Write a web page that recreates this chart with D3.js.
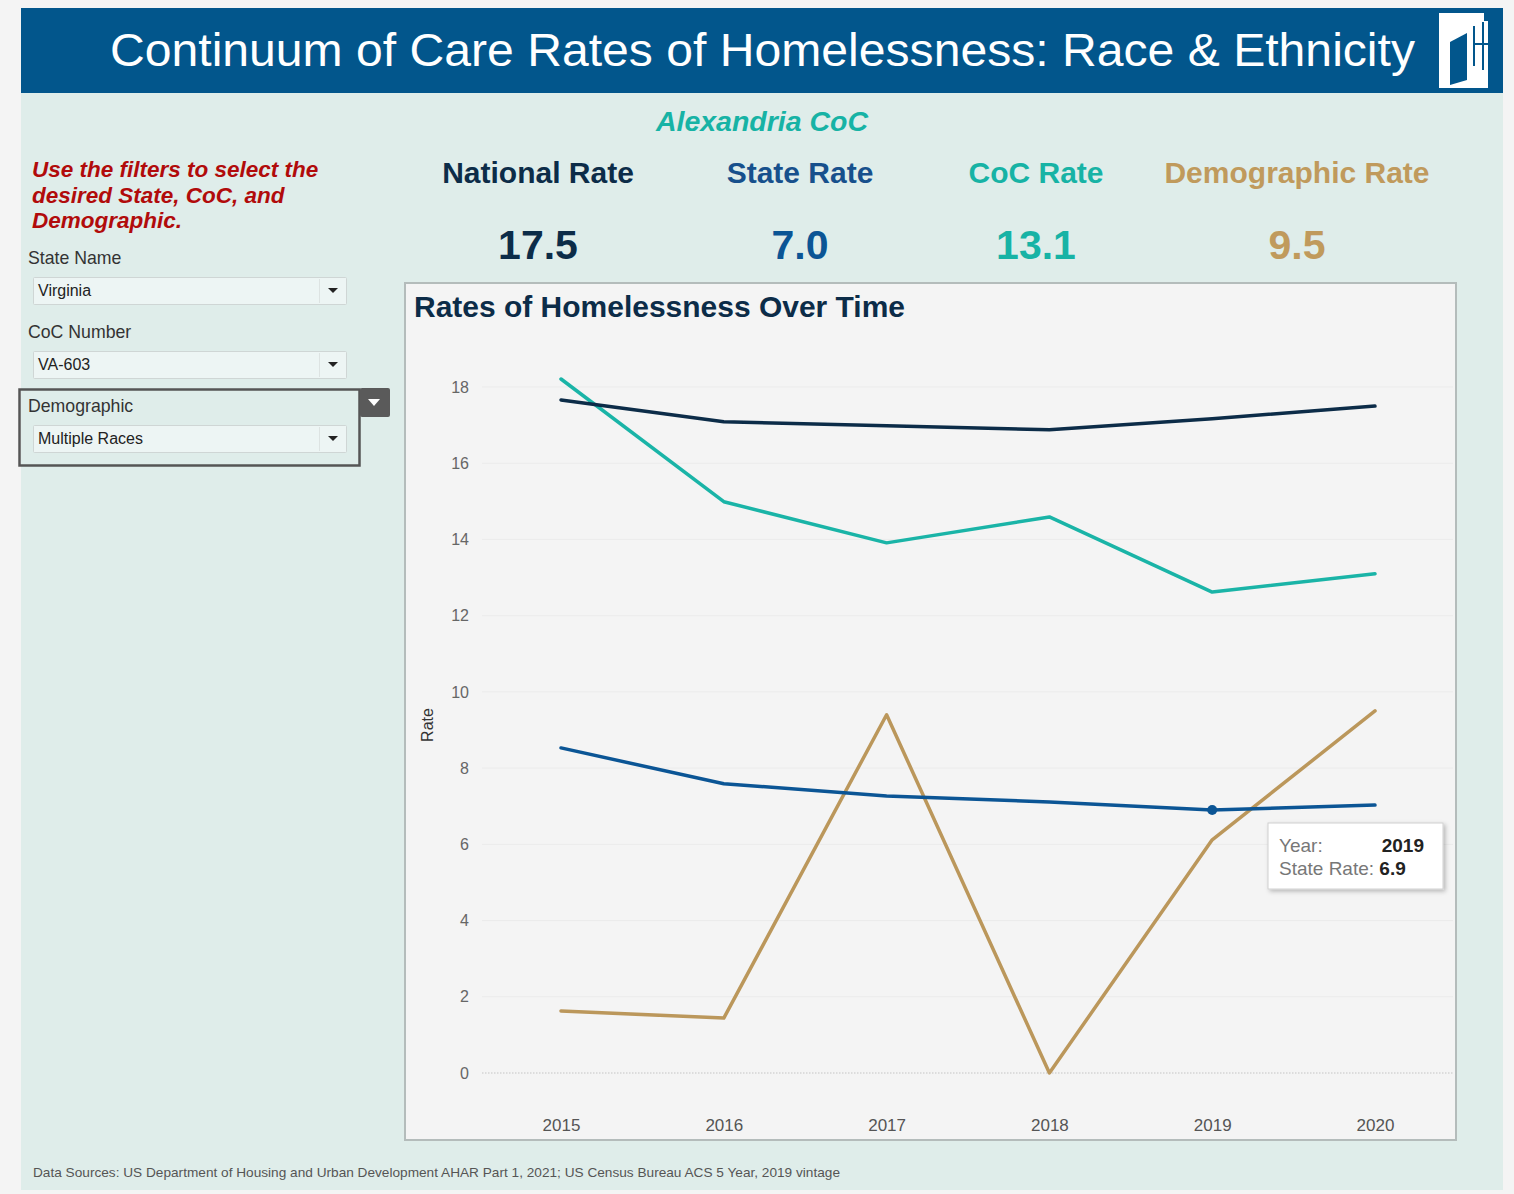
<!DOCTYPE html>
<html><head><meta charset="utf-8">
<script src="https://cdn.jsdelivr.net/npm/d3@7"></script>
<style>
html,body{margin:0;padding:0;background:#f4f4f4;}
svg{display:block;font-family:"Liberation Sans",Arial,sans-serif;}
</style></head>
<body>
<svg id="c" width="1514" height="1194"></svg>
<script>
const years = [2015, 2016, 2017, 2018, 2019, 2020];
const nationalRate = [17.66, 17.09, 16.98, 16.88, 17.17, 17.5];
const stateRate = [8.53, 7.59, 7.27, 7.11, 6.9, 7.03];
const cocRate = [18.21, 14.99, 13.91, 14.59, 12.62, 13.1];
const demographicRate = [1.63, 1.44, 9.4, 0.0, 6.12, 9.5];
const yTicks = [0, 2, 4, 6, 8, 10, 12, 14, 16, 18];
const kpiLabels = ["National Rate", "State Rate", "CoC Rate", "Demographic Rate"];
const kpiValues = ["17.5", "7.0", "13.1", "9.5"];
const filters = [
  {label: "State Name", value: "Virginia"},
  {label: "CoC Number", value: "VA-603"},
  {label: "Demographic", value: "Multiple Races"}
];

const colors = {national:"#0c2c48", state:"#0b5595", coc:"#1ab4a7", demo:"#bb975b"};
const svg = d3.select("#c");

// dashboard background
svg.append("rect").attr("x",21).attr("y",8).attr("width",1482).attr("height",1182).attr("fill","#dfedea");
// header
svg.append("rect").attr("x",21).attr("y",8).attr("width",1482).attr("height",85).attr("fill","#02568c");
svg.append("text").attr("x",110).attr("y",66)
  .attr("fill","#fff").attr("font-size",47)
  .attr("textLength",1305).attr("lengthAdjust","spacingAndGlyphs")
  .text("Continuum of Care Rates of Homelessness: Race & Ethnicity");
// logo
const lg = svg.append("g");
lg.append("rect").attr("x",1439).attr("y",13).attr("width",49).attr("height",75).attr("fill","#fff");
lg.append("path").attr("d","M1450,42 L1467,33 L1467,80 L1450,85 Z").attr("fill","#02568c");
lg.append("rect").attr("x",1473).attr("y",26).attr("width",2).attr("height",40).attr("fill","#02568c");
lg.append("rect").attr("x",1482).attr("y",22).attr("width",2).attr("height",48).attr("fill","#02568c");
lg.append("rect").attr("x",1473).attr("y",43).attr("width",15).attr("height",2).attr("fill","#02568c");
lg.append("rect").attr("x",1484).attr("y",13).attr("width",4).attr("height",8).attr("fill","#02568c");

// subtitle
svg.append("text").attr("x",762).attr("y",131).attr("text-anchor","middle")
  .attr("fill","#17b3a5").attr("font-size",28.5).attr("font-weight","bold").attr("font-style","italic")
  .text("Alexandria CoC");

// KPIs
const kpiX = [538, 800, 1036, 1297];
const kpiCol = ["#0c2c48", "#17508c", "#17b3a5", "#c09a5c"];
kpiLabels.forEach((l,i)=>{
  svg.append("text").attr("x",kpiX[i]).attr("y",183).attr("text-anchor","middle")
    .attr("fill",kpiCol[i]).attr("font-size",30).attr("font-weight","bold").text(l);
  svg.append("text").attr("x",kpiX[i]).attr("y",259).attr("text-anchor","middle")
    .attr("fill",i===1?"#0b5595":kpiCol[i]).attr("font-size",41).attr("font-weight","bold").text(kpiValues[i]);
});

// left instructions
const instr = ["Use the filters to select the","desired State, CoC, and","Demographic."];
instr.forEach((t,i)=>{
  svg.append("text").attr("x",32).attr("y",177+i*25.5).attr("fill","#b10b0b")
    .attr("font-size",22.5).attr("font-weight","bold").attr("font-style","italic").text(t);
});

// highlighted demographic container
svg.append("rect").attr("x",19.5).attr("y",389.5).attr("width",340).attr("height",76)
  .attr("fill","none").attr("stroke","#555").attr("stroke-width",2.5);
svg.append("rect").attr("x",360).attr("y",388).attr("width",30).attr("height",29).attr("rx",2).attr("fill","#5a5a5a");
svg.append("path").attr("d","M368,399 L380,399 L374,406 Z").attr("fill","#fff");

const fy = [258, 332, 406];
filters.forEach((f,i)=>{
  svg.append("text").attr("x",28).attr("y",fy[i]+6).attr("fill","#333").attr("font-size",17.7).text(f.label);
  const by = fy[i]+19;
  svg.append("rect").attr("x",33.5).attr("y",by+0.5).attr("width",313).attr("height",27)
    .attr("fill","#edf5f4").attr("stroke","#cfd6d5").attr("rx",1);
  svg.append("line").attr("x1",319.5).attr("x2",319.5).attr("y1",by+2).attr("y2",by+26).attr("stroke","#dde3e2");
  svg.append("path").attr("d",`M328,${by+11} L338,${by+11} L333,${by+16} Z`).attr("fill","#222");
  svg.append("text").attr("x",38).attr("y",by+19).attr("fill","#222").attr("font-size",16).text(f.value);
});

// chart panel
svg.append("rect").attr("x",405).attr("y",283).attr("width",1051).attr("height",857)
  .attr("fill","#f4f4f4").attr("stroke","#b4bcbb").attr("stroke-width",2);
svg.append("text").attr("x",414).attr("y",317).attr("fill","#0c2c48").attr("font-size",29.5)
  .attr("font-weight","bold").attr("textLength",491).attr("lengthAdjust","spacingAndGlyphs")
  .text("Rates of Homelessness Over Time");

const x = d3.scalePoint().domain(years).range([561,1375]);
const y = d3.scaleLinear().domain([0,18]).range([1073,387]);

// gridlines
const grid = svg.append("g");
yTicks.forEach(t=>{
  grid.append("line").attr("x1",482).attr("x2",1453).attr("y1",y(t)).attr("y2",y(t))
    .attr("stroke", t===0?"#c4c4c4":"#ebebeb").attr("stroke-width",1)
    .attr("stroke-dasharray", t===0?"1.5,1.5":null);
});

// y axis
const yAxis = svg.append("g").attr("transform","translate(469,0)")
  .call(d3.axisLeft(y).tickValues(yTicks).tickSize(0).tickPadding(0));
yAxis.select(".domain").remove();
yAxis.selectAll("text").attr("fill","#666").attr("font-size",16)
  .attr("font-family","'Liberation Sans',Arial,sans-serif").attr("dy","0.32em");

// x axis
const xAxis = svg.append("g").attr("transform","translate(0,1118)")
  .call(d3.axisBottom(x).tickSize(0).tickPadding(0).tickFormat(d3.format("d")));
xAxis.select(".domain").remove();
xAxis.selectAll("text").attr("fill","#555").attr("font-size",17)
  .attr("font-family","'Liberation Sans',Arial,sans-serif").attr("dy","0.78em");

// axis title
svg.append("text").attr("transform","translate(433,725) rotate(-90)").attr("text-anchor","middle")
  .attr("fill","#333").attr("font-size",16).text("Rate");

// lines
const line = d3.line().x((d,i)=>x(years[i])).y(d=>y(d));
[[demographicRate,colors.demo,3.5],[stateRate,colors.state,3.5],[cocRate,colors.coc,3.5],[nationalRate,colors.national,3.5]]
.forEach(([data,c,w])=>{
  svg.append("path").datum(data).attr("d",line).attr("fill","none").attr("stroke",c)
    .attr("stroke-width",w).attr("stroke-linejoin","round").attr("stroke-linecap","round");
});

// highlighted point
svg.append("circle").attr("cx",x(2019)).attr("cy",y(stateRate[4])).attr("r",5).attr("fill",colors.state);

// tooltip
const tt = svg.append("g");
const defs = svg.append("defs");
const flt = defs.append("filter").attr("id","sh").attr("x","-10%").attr("y","-10%").attr("width","130%").attr("height","140%");
flt.append("feDropShadow").attr("dx",2).attr("dy",2).attr("stdDeviation",2).attr("flood-color","#000").attr("flood-opacity",0.25);
tt.append("rect").attr("x",1268).attr("y",823).attr("width",175).attr("height",66).attr("fill","#fff")
  .attr("stroke","#d0d0d0").attr("filter","url(#sh)");
tt.append("text").attr("x",1279).attr("y",852).attr("fill","#777").attr("font-size",19).text("Year:");
tt.append("text").attr("x",1424).attr("y",852).attr("text-anchor","end").attr("fill","#222")
  .attr("font-size",19).attr("font-weight","bold").text(String(years[4]));
const t2 = tt.append("text").attr("x",1279).attr("y",875).attr("font-size",19);
t2.append("tspan").attr("fill","#777").text("State Rate: ");
t2.append("tspan").attr("fill","#222").attr("font-weight","bold").text(d3.format(".1f")(stateRate[4]));

// footer
svg.append("text").attr("x",33).attr("y",1177).attr("fill","#555").attr("font-size",13.2)
  .attr("textLength",807).attr("lengthAdjust","spacingAndGlyphs")
  .text("Data Sources: US Department of Housing and Urban Development  AHAR Part 1, 2021; US Census Bureau ACS 5 Year, 2019 vintage");
</script>
</body></html>
